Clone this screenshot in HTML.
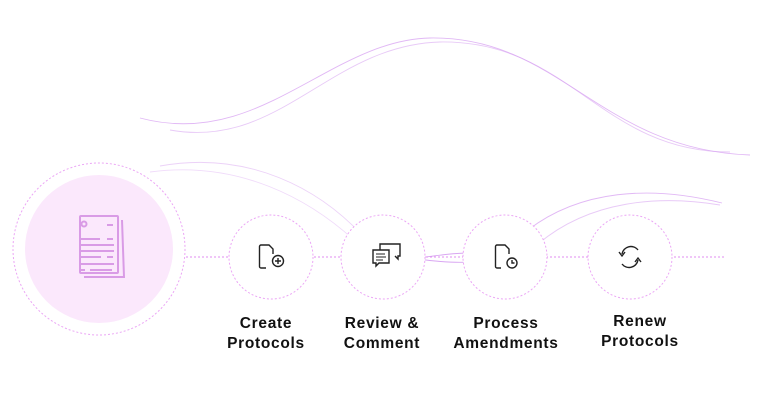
<!DOCTYPE html>
<html><head><style>
body{margin:0;width:762px;height:400px;background:#fff;overflow:hidden;position:relative;font-family:"Liberation Sans",sans-serif}
.l{position:absolute;font-weight:bold;font-size:15.5px;line-height:20px;color:#111;text-align:center;width:160px;letter-spacing:0.7px}
</style></head><body>
<svg width="762" height="400" style="position:absolute;left:0;top:0">
<g fill="none" stroke="#d9a6f2" stroke-width="0.9">
<path d="M140 118 C 260 150, 330 40, 430 38 C 560 36, 600 150, 750 155" opacity="0.8"/>
<path d="M170 130 C 280 150, 330 45, 440 42 C 570 40, 600 152, 730 152" opacity="0.6"/>
<path d="M160 166 C 250 150, 320 190, 362 235" opacity="0.5"/>
<path d="M150 172 C 240 160, 310 200, 354 240" opacity="0.4"/>
<path d="M528 230 C 580 190, 650 185, 722 203" opacity="0.8"/>
<path d="M538 244 C 590 200, 660 195, 720 205" opacity="0.6"/>
<path d="M418 258 C 440 255, 455 253, 470 253" />
<path d="M418 259 C 440 262, 455 263, 470 262" />
</g>
<line x1="186" y1="257" x2="725" y2="257" stroke="#e08ef0" stroke-width="1" stroke-dasharray="2 2"/>
<circle cx="99" cy="249" r="74" fill="#fbe8fc"/>
<g fill="#fff" stroke="#eba6f5" stroke-width="1" stroke-dasharray="2 2">
<circle cx="99" cy="249" r="86" fill="none"/>
<circle cx="271" cy="257" r="42"/>
<circle cx="383" cy="257" r="42"/>
<circle cx="505" cy="257" r="42"/>
<circle cx="630" cy="257" r="42"/>
</g>
<g stroke="#d99be6" stroke-width="2" fill="none">
<rect x="80" y="216" width="38" height="57" rx="1" fill="#fbe8fc"/>
<path d="M122 220 L124 277 L84 277"/>
<circle cx="84" cy="224" r="2.5"/>
<path d="M107 225h6 M81 239h19 M107 239h6 M81 245h33 M81 251h33 M81 257h20 M107 257h6 M81 264h33 M81 270h4 M90 270h22"/>
</g>
<g stroke="#222" stroke-width="1.4" fill="none">
<path d="M266 268 h-5 a1.5 1.5 0 0 1-1.5-1.5 v-20 a1.5 1.5 0 0 1 1.5-1.5 h8 l4 4 v5"/>
<circle cx="278" cy="261" r="5.5"/><path d="M278 258v6 M275 261h6"/>
<path d="M373 250 h16 v13 h-10 l-3 3 v-3 h-3 z"/>
<path d="M380 250 v-6 h20 v12 h-2 v3 l-3-3"/>
<path d="M376 254h9 M376 257h10 M376 260h7" stroke-width="1"/>
<path d="M501 268 h-4 a1.5 1.5 0 0 1-1.5-1.5 v-20 a1.5 1.5 0 0 1 1.5-1.5 h8 l4 4 v5"/>
<circle cx="512" cy="263" r="5"/><path d="M512 260v3h2.5"/>
<path d="M622 254 a9 9 0 0 1 16-4 M638 260 a9 9 0 0 1-16 4"/>
<path d="M619 252 l3 4 l3-4 M635 262 l3-4 l3 4"/>
</g>
</svg>
<div class="l" style="left:186px;top:314px">Create<br>Protocols</div>
<div class="l" style="left:302px;top:314px">Review &amp;<br>Comment</div>
<div class="l" style="left:426px;top:314px">Process<br>Amendments</div>
<div class="l" style="left:560px;top:312px">Renew<br>Protocols</div>
</body></html>
